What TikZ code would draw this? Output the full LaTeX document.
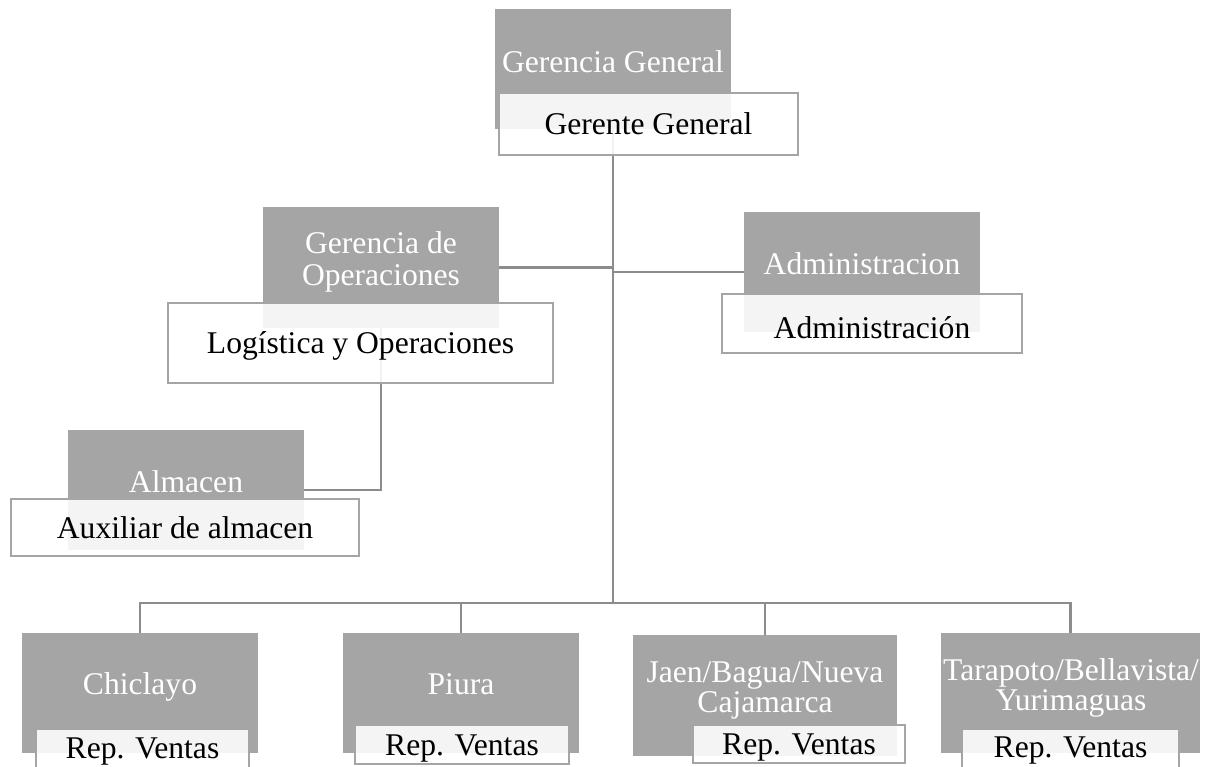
\documentclass[tikz,border=0pt]{standalone}
\usepackage{fontspec}
\setmainfont{Liberation Serif}
\usetikzlibrary{backgrounds}
\definecolor{boxgray}{HTML}{A5A5A5}
\definecolor{wiregray}{HTML}{8C8C8C}
\begin{document}
\begin{tikzpicture}[x=1pt,y=-1pt,
  font=\fontsize{31.6}{36}\selectfont,
  graybox/.style={fill=boxgray, draw=none, inner sep=0pt, minimum height=120pt},
  graylabel/.style={text=white, anchor=base, inner sep=0pt},
  whitebox/.style={draw=boxgray, line width=2pt, fill=white, fill opacity=0.88,
    text opacity=1, text=black, inner sep=0pt, text height=21pt, text depth=0pt},
  wire/.style={draw=wiregray, line width=2.2pt}]
\useasboundingbox (0,0) rectangle (1206,766);
\clip (0,0) rectangle (1206,766);

% gray boxes
\node[graybox, minimum width=236pt] (gg)  at (613,69)  {};
\node[graybox, minimum width=236pt, minimum height=121pt] (go)  at (381,267.5) {};
\node[graybox, minimum width=236pt] (adm) at (862,272) {};
\node[graybox, minimum width=236pt] (alm) at (186,490) {};
\node[graybox, minimum width=236pt] (chi) at (140,693) {};
\node[graybox, minimum width=236pt] (piu) at (461,693) {};
\node[graybox, minimum width=264pt, minimum height=121pt] (jae) at (765,695.5) {};
\node[graybox, minimum width=259pt] (tar) at (1070.5,693) {};

% connectors
\coordinate (bus) at (613,603);
\begin{scope}[on background layer]
  \draw[wire] (gg.center) -- (bus);
  \draw[wire] (go.center) -- (go.center -| gg.center);
  \draw[wire] (adm.center) -- (adm.center -| gg.center);
  \draw[wire] (go.center) |- (alm.center);
  \draw[wire] (bus) -| (chi.center);
  \draw[wire] (bus) -| (piu.center);
  \draw[wire] (bus) -| (jae.center);
  \draw[wire] (bus) -| (tar.center);
\end{scope}

% gray box labels
\node[graylabel] (gg-t)  at (613,72)  {Gerencia General};
\node[graylabel] (go-t1) at (381,253) {Gerencia de};
\node[graylabel] (go-t2) at (381,285) {Operaciones};
\node[graylabel] (adm-t) at (862,274) {Administracion};
\node[graylabel] (alm-t) at (186,492) {Almacen};
\node[graylabel] (chi-t) at (140,694) {Chiclayo};
\node[graylabel] (piu-t) at (461,694) {Piura};
\node[graylabel] (jae-t1) at (765,682) {Jaen/Bagua/Nueva};
\node[graylabel] (jae-t2) at (765,712) {Cajamarca};
\node[graylabel] (tar-t1) at (1071,680) {Tarapoto/Bellavista/};
\node[graylabel] (tar-t2) at (1071,710) {Yurimaguas};

% white boxes
\node[whitebox, minimum width=299pt, minimum height=62pt] (ger) at (648.5,124) {Gerente General};
\node[whitebox, minimum width=385pt, minimum height=80pt] (log) at (360.5,343) {Logística y Operaciones};
\node[whitebox, minimum width=300pt, minimum height=59pt, text height=29pt] (admw) at (872,323.5) {Administración};
\node[whitebox, minimum width=348pt, minimum height=57pt] (aux) at (185,527.5) {Auxiliar de almacen};
\node[whitebox, minimum width=213pt, minimum height=60pt, text depth=23pt] (rep1) at (142.5,759) {Rep. Ventas};
\node[whitebox, minimum width=214pt, minimum height=39pt] (rep2) at (462,744.5) {Rep. Ventas};
\node[whitebox, minimum width=212pt, minimum height=38pt] (rep3) at (799,744) {Rep. Ventas};
\node[whitebox, minimum width=217pt, minimum height=60pt, text depth=25pt] (rep4) at (1070.5,759) {Rep. Ventas};
\end{tikzpicture}
\end{document}
